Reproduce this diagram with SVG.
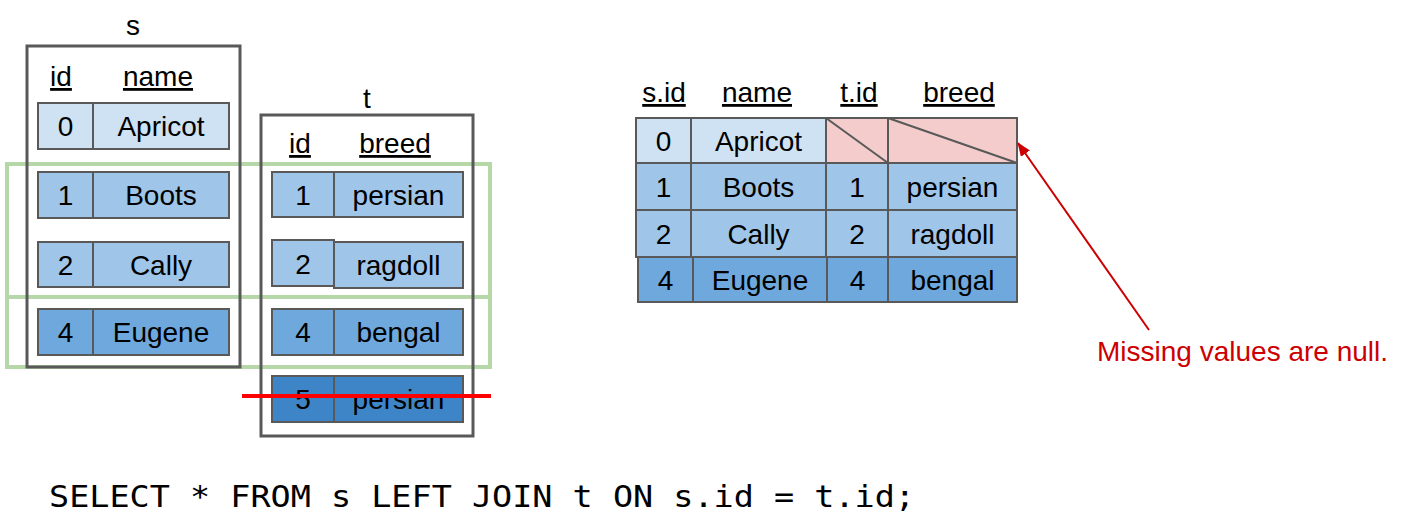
<svg xmlns="http://www.w3.org/2000/svg" width="1421" height="531" viewBox="0 0 1421 531">
<style>
  text { font-family: "Liberation Sans", Arial, sans-serif; font-size: 28px; fill: #000; text-anchor: middle; }
  .hd { text-decoration: underline; }
  .box { fill: none; stroke: #595959; stroke-width: 3; }
  .c { stroke: #595959; stroke-width: 2; }
  .l0 { fill: #cfe2f3; }
  .l1 { fill: #9fc5e8; }
  .l2 { fill: #6fa8dc; }
  .l3 { fill: #3d85c6; }
  .nul { fill: #f4cccc; }
  .grp { fill: none; stroke: #b6d7a8; stroke-width: 4; }
  .diag { stroke: #595959; stroke-width: 2; }
  .note { fill: #cc0000; text-anchor: start; }
  .sql { font-family: "DejaVu Sans Mono", "Liberation Mono", monospace; font-size: 30px; text-anchor: start; }
</style>
<defs>
  <marker id="ah" viewBox="0 0 14 11" refX="13" refY="5.5" markerWidth="14" markerHeight="11" markerUnits="userSpaceOnUse" orient="auto">
    <path d="M0,0 L14,5.5 L0,11 z" fill="#cc0000"/>
  </marker>
</defs>
<rect width="1421" height="531" fill="#fff"/>

<g id="match-groups">
  <rect class="grp" x="7" y="164" width="483" height="133"/>
  <rect class="grp" x="7" y="297" width="483" height="70"/>
</g>

<g id="table-s">
  <text x="133" y="35">s</text>
  <rect class="box" x="27" y="46" width="213" height="321"/>
  <text class="hd" x="61" y="86">id</text>
  <text class="hd" x="158" y="86">name</text>
  <g id="s-row0">
    <rect class="c l0" x="38" y="103" width="55" height="46"/>
    <rect class="c l0" x="93" y="103" width="136" height="46"/>
    <text x="65.5" y="136">0</text><text x="161" y="136">Apricot</text>
  </g>
  <g id="s-row1">
    <rect class="c l1" x="38" y="172" width="55" height="46"/>
    <rect class="c l1" x="93" y="172" width="136" height="46"/>
    <text x="65.5" y="205">1</text><text x="161" y="205">Boots</text>
  </g>
  <g id="s-row2">
    <rect class="c l1" x="38" y="242" width="55" height="45"/>
    <rect class="c l1" x="93" y="242" width="136" height="45"/>
    <text x="65.5" y="274.5">2</text><text x="161" y="274.5">Cally</text>
  </g>
  <g id="s-row4">
    <rect class="c l2" x="38" y="309" width="55" height="46"/>
    <rect class="c l2" x="93" y="309" width="136" height="46"/>
    <text x="65.5" y="342">4</text><text x="161" y="342">Eugene</text>
  </g>
</g>

<g id="table-t">
  <text x="367" y="108">t</text>
  <rect class="box" x="261" y="115" width="212" height="321"/>
  <text class="hd" x="300" y="153">id</text>
  <text class="hd" x="395" y="153">breed</text>
  <g id="t-row1">
    <rect class="c l1" x="272" y="172" width="62" height="45"/>
    <rect class="c l1" x="334" y="172" width="129" height="45"/>
    <text x="303" y="204.5">1</text><text x="398.5" y="204.5">persian</text>
  </g>
  <g id="t-row2">
    <rect class="c l1" x="272" y="240" width="62" height="46"/>
    <rect class="c l1" x="334" y="242" width="129" height="46"/>
    <text x="303" y="274">2</text><text x="398.5" y="275">ragdoll</text>
  </g>
  <g id="t-row4">
    <rect class="c l2" x="272" y="309" width="62" height="46"/>
    <rect class="c l2" x="334" y="309" width="129" height="46"/>
    <text x="303" y="342">4</text><text x="398.5" y="342">bengal</text>
  </g>
  <g id="t-row5">
    <rect class="c l3" x="272" y="376" width="62" height="46"/>
    <rect class="c l3" x="334" y="376" width="129" height="46"/>
    <text x="303" y="409">5</text><text x="398.5" y="409">persian</text>
  </g>
  <line x1="242" y1="396" x2="491" y2="396" stroke="#ff0000" stroke-width="4"/>
</g>

<g id="result">
  <text class="hd" x="664" y="102">s.id</text>
  <text class="hd" x="757" y="102">name</text>
  <text class="hd" x="859" y="102">t.id</text>
  <text class="hd" x="959" y="102">breed</text>
  <g id="r-row0">
    <rect class="c l0" x="636" y="118" width="55" height="45"/>
    <rect class="c l0" x="691" y="118" width="135" height="45"/>
    <rect class="c nul" x="826" y="118" width="62" height="45"/>
    <rect class="c nul" x="888" y="118" width="129" height="45"/>
    <line class="diag" x1="826" y1="118" x2="888" y2="163"/>
    <line class="diag" x1="888" y1="118" x2="1017" y2="163"/>
    <text x="663.5" y="150.5">0</text><text x="758.5" y="150.5">Apricot</text>
  </g>
  <g id="r-row1">
    <rect class="c l1" x="636" y="163" width="55" height="47"/>
    <rect class="c l1" x="691" y="163" width="135" height="47"/>
    <rect class="c l1" x="826" y="163" width="62" height="47"/>
    <rect class="c l1" x="888" y="163" width="129" height="47"/>
    <text x="663.5" y="196.5">1</text><text x="758.5" y="196.5">Boots</text><text x="857" y="196.5">1</text><text x="952.5" y="196.5">persian</text>
  </g>
  <g id="r-row2">
    <rect class="c l1" x="636" y="210" width="55" height="47"/>
    <rect class="c l1" x="691" y="210" width="135" height="47"/>
    <rect class="c l1" x="826" y="210" width="62" height="47"/>
    <rect class="c l1" x="888" y="210" width="129" height="47"/>
    <text x="663.5" y="243.5">2</text><text x="758.5" y="243.5">Cally</text><text x="857" y="243.5">2</text><text x="952.5" y="243.5">ragdoll</text>
  </g>
  <g id="r-row4">
    <rect class="c l2" x="638" y="257" width="55" height="45"/>
    <rect class="c l2" x="693" y="257" width="134" height="45"/>
    <rect class="c l2" x="827" y="257" width="61" height="45"/>
    <rect class="c l2" x="888" y="257" width="129" height="45"/>
    <text x="665.5" y="289.5">4</text><text x="760" y="289.5">Eugene</text><text x="857.5" y="289.5">4</text><text x="952.5" y="289.5">bengal</text>
  </g>
</g>

<g id="note">
  <text class="note" x="1097" y="361">Missing values are null.</text>
</g>

<g id="connectors">
  <line x1="1149" y1="330" x2="1018" y2="143" stroke="#cc0000" stroke-width="2" marker-end="url(#ah)"/>
</g>

<g id="query">
  <text class="sql" x="49" y="507" textLength="866" lengthAdjust="spacingAndGlyphs">SELECT * FROM s LEFT JOIN t ON s.id = t.id;</text>
</g>
</svg>
